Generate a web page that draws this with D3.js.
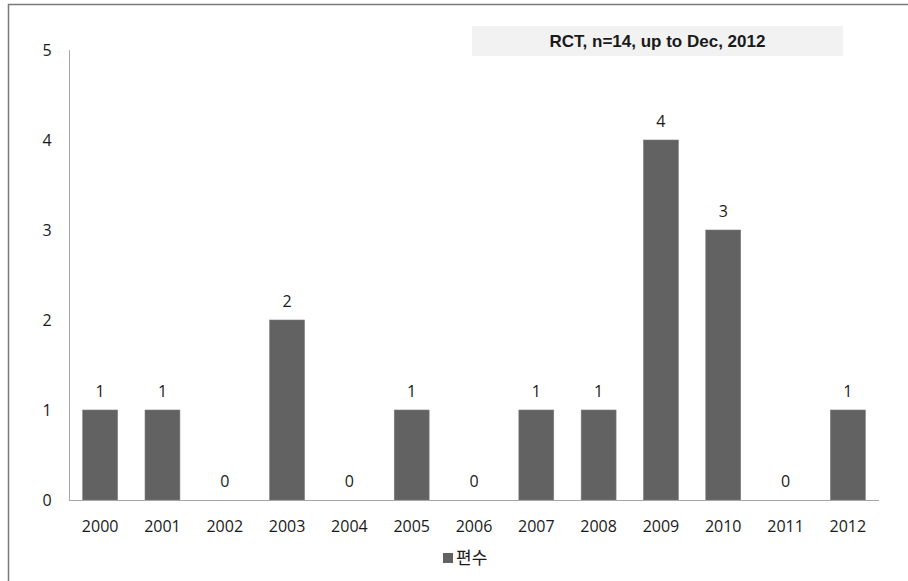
<!DOCTYPE html>
<html>
<head>
<meta charset="utf-8">
<script src="https://cdn.jsdelivr.net/npm/d3@7/dist/d3.min.js"></script>
<style>
  html, body { margin: 0; padding: 0; background: #fff; }
  svg { display: block; }
  text { font-family: "Open Sans", "Noto Sans CJK KR", sans-serif; fill: #1a1a1a; }
</style>
</head>
<body>
<svg id="chart" width="908" height="581"></svg>
<script>
// Yearly count of RCT publications
const years = ["2000","2001","2002","2003","2004","2005","2006","2007","2008","2009","2010","2011","2012"];
const counts = [1, 1, 0, 2, 0, 1, 0, 1, 1, 4, 3, 0, 1];
const yTicks = [0, 1, 2, 3, 4, 5];
const seriesName = "편수";
const titleText = "RCT, n=14, up to Dec, 2012";

const svg = d3.select("#chart");

// outer frame (left and top edges visible)
svg.append("path")
  .attr("d", "M8.5,581 V4.5 H908")
  .attr("fill", "none")
  .attr("stroke", "#7a7a7a")
  .attr("stroke-width", 1.5);

const plot = { left: 69, right: 879, top: 50, bottom: 500 };

const x = d3.scaleBand()
  .domain(years)
  .range([plot.left, plot.right])
  .paddingInner(0.44)
  .paddingOuter(0.22);

const y = d3.scaleLinear()
  .domain([0, 5])
  .range([plot.bottom, plot.top]);

// y axis: line plus labels, no tick marks
svg.append("line")
  .attr("x1", plot.left + 0.5).attr("x2", plot.left + 0.5)
  .attr("y1", plot.top).attr("y2", plot.bottom)
  .attr("stroke", "#a6a6a6").attr("stroke-width", 1);

svg.append("g").selectAll("text")
  .data(yTicks)
  .join("text")
  .attr("x", 47)
  .attr("y", d => y(d))
  .attr("dy", "0.35em")
  .attr("text-anchor", "middle")
  .attr("font-size", 16)
  .text(d => d);

// bars
svg.append("g").selectAll("rect")
  .data(counts)
  .join("rect")
  .attr("x", (d, i) => x(years[i]))
  .attr("y", d => y(d))
  .attr("width", x.bandwidth())
  .attr("height", d => y(0) - y(d))
  .attr("fill", "#626262")
  .attr("stroke", "#7c7c7c")
  .attr("stroke-width", 0.6);

// x axis line
svg.append("line")
  .attr("x1", plot.left).attr("x2", plot.right)
  .attr("y1", plot.bottom + 0.5).attr("y2", plot.bottom + 0.5)
  .attr("stroke", "#a6a6a6").attr("stroke-width", 1);

// category labels
svg.append("g").selectAll("text")
  .data(years)
  .join("text")
  .attr("x", d => x(d) + x.bandwidth() / 2)
  .attr("y", 526)
  .attr("dy", "0.35em")
  .attr("text-anchor", "middle")
  .attr("font-size", 16)
  .text(d => d);

// value labels
svg.append("g").selectAll("text")
  .data(counts)
  .join("text")
  .attr("x", (d, i) => x(years[i]) + x.bandwidth() / 2)
  .attr("y", d => y(d) - 19)
  .attr("dy", "0.35em")
  .attr("text-anchor", "middle")
  .attr("font-size", 16)
  .text(d => d);

// title box
svg.append("rect")
  .attr("x", 472).attr("y", 26)
  .attr("width", 371).attr("height", 30)
  .attr("fill", "#f2f2f2");

svg.append("text")
  .attr("x", 657.5).attr("y", 41)
  .attr("dy", "0.35em")
  .attr("text-anchor", "middle")
  .attr("font-size", 17)
  .attr("font-weight", "bold")
  .style("font-family", "'Liberation Sans', Arial, sans-serif")
  .text(titleText);

// legend
const legend = svg.append("g");
legend.append("rect")
  .attr("x", 443).attr("y", 553)
  .attr("width", 10).attr("height", 10)
  .attr("fill", "#626262");
legend.append("text")
  .attr("x", 456).attr("y", 558)
  .attr("dy", "0.35em")
  .attr("font-size", 17)
  .style("font-family", "'Noto Sans CJK KR', sans-serif")
  .text(seriesName);
</script>
</body>
</html>
